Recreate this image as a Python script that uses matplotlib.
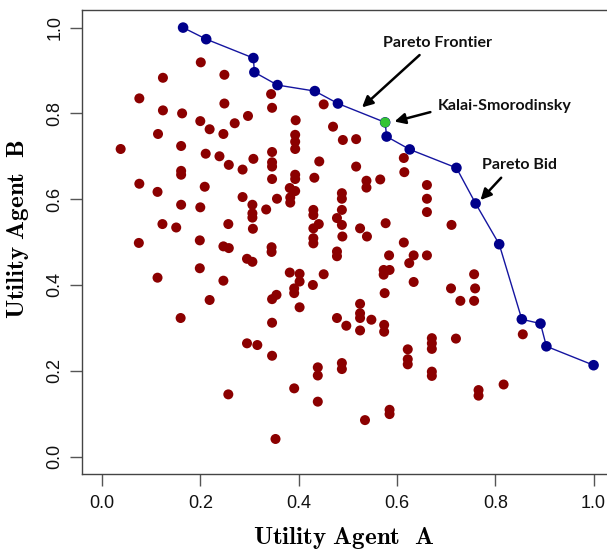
import matplotlib
matplotlib.use("Agg")
import matplotlib.pyplot as plt

plt.rcParams['mathtext.fontset'] = 'cm'

# utilidades das ofertas
bids_a = [0.201, 0.124, 0.249, 0.076, 0.124, 0.163, 0.249, 0.200, 0.219, 0.247,
          0.270, 0.297, 0.114, 0.038, 0.161, 0.211, 0.239, 0.258, 0.286, 0.308,
          0.161, 0.161, 0.076, 0.113, 0.209, 0.161, 0.200, 0.286, 0.306, 0.306,
          0.306, 0.334, 0.123, 0.151, 0.257, 0.307, 0.075, 0.199, 0.247, 0.258,
          0.344, 0.346, 0.451, 0.394, 0.393, 0.393, 0.393, 0.470, 0.490, 0.517,
          0.346, 0.346, 0.346, 0.346, 0.442, 0.517, 0.393, 0.393, 0.432, 0.538,
          0.538, 0.566, 0.614, 0.615, 0.661, 0.661, 0.661, 0.382, 0.393, 0.383,
          0.383, 0.356, 0.488, 0.488, 0.488, 0.478, 0.488, 0.430, 0.430, 0.441,
          0.430, 0.430, 0.430, 0.489, 0.525, 0.539, 0.577, 0.614, 0.711,
          0.295, 0.306, 0.199, 0.113, 0.247, 0.219, 0.160, 0.295, 0.316, 0.257,
          0.345, 0.345, 0.478, 0.478, 0.584, 0.634, 0.661, 0.625, 0.382, 0.402,
          0.402, 0.451, 0.429, 0.391, 0.391, 0.355, 0.346, 0.402, 0.573, 0.573,
          0.585, 0.634, 0.575, 0.346, 0.478, 0.497, 0.525, 0.525, 0.525, 0.548,
          0.525, 0.574, 0.574, 0.622, 0.622, 0.622, 0.346, 0.488, 0.488, 0.439,
          0.439, 0.391, 0.439, 0.585, 0.585, 0.535, 0.353,
          0.757, 0.710, 0.759, 0.729, 0.757, 0.671, 0.671, 0.671, 0.720, 0.856,
          0.671, 0.671, 0.817, 0.766, 0.766]
bids_b = [0.919, 0.883, 0.890, 0.835, 0.807, 0.800, 0.823, 0.782, 0.763, 0.752,
          0.777, 0.794, 0.752, 0.717, 0.724, 0.706, 0.700, 0.680, 0.669, 0.694,
          0.666, 0.657, 0.636, 0.617, 0.629, 0.587, 0.581, 0.605, 0.587, 0.567,
          0.557, 0.576, 0.542, 0.534, 0.542, 0.531, 0.498, 0.504, 0.490, 0.486,
          0.845, 0.813, 0.821, 0.784, 0.750, 0.734, 0.717, 0.769, 0.738, 0.740,
          0.710, 0.686, 0.676, 0.647, 0.688, 0.676, 0.657, 0.647, 0.650, 0.643,
          0.627, 0.646, 0.696, 0.663, 0.633, 0.601, 0.570, 0.626, 0.619, 0.604,
          0.592, 0.601, 0.614, 0.601, 0.575, 0.556, 0.540, 0.575, 0.563, 0.542,
          0.532, 0.509, 0.497, 0.513, 0.532, 0.513, 0.544, 0.499, 0.540,
          0.461, 0.454, 0.439, 0.417, 0.410, 0.365, 0.323, 0.264, 0.260, 0.145,
          0.488, 0.477, 0.478, 0.467, 0.469, 0.469, 0.469, 0.451, 0.429, 0.426,
          0.408, 0.425, 0.400, 0.392, 0.381, 0.377, 0.367, 0.348, 0.435, 0.424,
          0.435, 0.407, 0.381, 0.312, 0.323, 0.305, 0.356, 0.334, 0.323, 0.319,
          0.294, 0.307, 0.291, 0.250, 0.227, 0.215, 0.235, 0.218, 0.204, 0.208,
          0.189, 0.159, 0.128, 0.109, 0.099, 0.085, 0.041,
          0.425, 0.392, 0.392, 0.363, 0.363, 0.276, 0.264, 0.251, 0.275, 0.285,
          0.198, 0.188, 0.168, 0.155, 0.142]

# fronteira de Pareto
pareto_a = [0.165, 0.212, 0.308, 0.310, 0.357, 0.433, 0.480, 0.576, 0.579,
            0.626, 0.721, 0.760, 0.808, 0.854, 0.892, 0.904, 1.000]
pareto_b = [1.000, 0.973, 0.929, 0.896, 0.866, 0.852, 0.823, 0.779, 0.746,
            0.716, 0.673, 0.590, 0.495, 0.320, 0.310, 0.257, 0.213]

# solução Kalai-Smorodinsky
ks_a = 0.576
ks_b = 0.779

ticks = [0.0, 0.2, 0.4, 0.6, 0.8, 1.0]
tick_labels = ['0.0', '0.2', '0.4', '0.6', '0.8', '1.0']

fig = plt.figure(figsize=(6.07, 5.52), dpi=100)
ax = fig.add_axes([0.1356, 0.1418, 0.8747, 0.8393])

ax.scatter(bids_a, bids_b, s=52, color='#8b0000', edgecolors='none', zorder=2)
ax.plot(pareto_a, pareto_b, color='#1515a0', lw=1.0, zorder=3)
ax.scatter(pareto_a, pareto_b, s=58, color='#00008b', edgecolors='none', zorder=4)
ax.scatter([ks_a], [ks_b], s=52, color='#33c433', edgecolors='none', zorder=5)

ax.set_xlim(-0.04, 1.04)
ax.set_ylim(-0.04, 1.04)
ax.set_xticks(ticks)
ax.set_xticklabels(tick_labels)
ax.set_yticks(ticks)
ax.set_yticklabels(tick_labels, rotation=90, va='center')

for sp in ax.spines.values():
    sp.set_color('#444444')
    sp.set_linewidth(1.0)
ax.tick_params(length=8.4, width=1.0, color='#555555', pad=7,
               labelsize=13, labelcolor='#111111')
ax.tick_params(axis='y', pad=5)
for lab in ax.get_xticklabels() + ax.get_yticklabels():
    lab.set_family(['Liberation Sans', 'DejaVu Sans'])

fig.text(0.566, 0.0254, r'$\mathbf{Utility\ Agent\ \ A}$', fontsize=18,
         ha='center', va='center')
fig.text(0.0297, 0.585, r'$\mathbf{Utility\ Agent\ \ B}$', fontsize=18,
         ha='center', va='center', rotation=90)

# anotações
fonte = dict(family=['Lato', 'DejaVu Sans'], weight='bold', fontsize=11.5,
             color='#111111')
seta = dict(arrowstyle='-|>', color='black', lw=1.8, mutation_scale=16,
            shrinkA=0, shrinkB=0)

ax.text(0.682, 0.965, 'Pareto Frontier', ha='center', va='center', **fonte)
ax.annotate('', xy=(0.529, 0.814), xytext=(0.646, 0.936), arrowprops=seta)

ax.text(0.684, 0.817, 'Kalai-Smorodinsky', ha='left', va='center', **fonte)
ax.annotate('', xy=(0.595, 0.781), xytext=(0.668, 0.803), arrowprops=seta)

ax.text(0.773, 0.680, 'Pareto Bid', ha='left', va='center', **fonte)
ax.annotate('', xy=(0.770, 0.598), xytext=(0.812, 0.650), arrowprops=seta)

fig.savefig('out.png', dpi=100)
